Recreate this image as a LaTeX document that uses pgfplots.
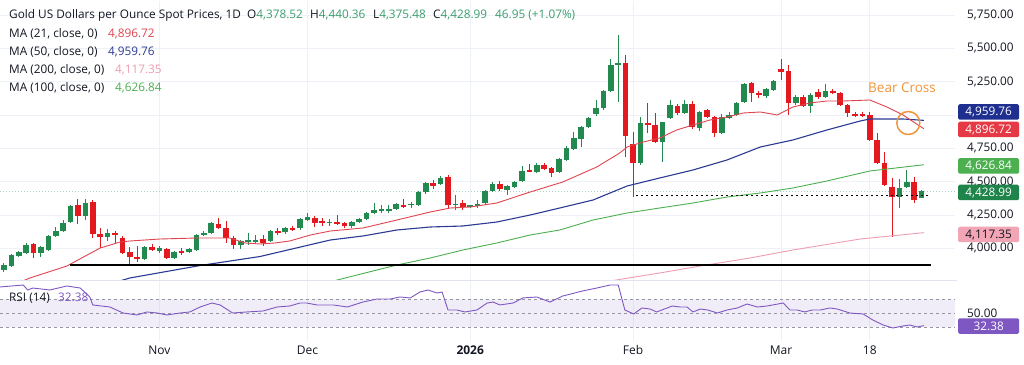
\documentclass[border=0pt]{standalone}
\usepackage{pgfplots}
\pgfplotsset{compat=1.18}
\usepackage{pgfplotstable}
\usepackage{fontspec}
\setmainfont{Open Sans}
\definecolor{cup}{HTML}{22894F}
\definecolor{cdn}{HTML}{E3191F}
\definecolor{ma21}{HTML}{E0454F}
\definecolor{ma50}{HTML}{2B3A93}
\definecolor{ma100}{HTML}{4CAF50}
\definecolor{ma200}{HTML}{EE9DB0}
\definecolor{rsic}{HTML}{7E57C2}
\definecolor{txt}{HTML}{131722}
\definecolor{gridc}{HTML}{EEF1F7}
\definecolor{hgreen}{HTML}{3A9D6E}
\definecolor{bear}{HTML}{F0953A}
\definecolor{box50}{HTML}{1F2F8F}
\definecolor{box21}{HTML}{E53945}
\definecolor{box100}{HTML}{4CAF50}
\definecolor{boxlast}{HTML}{1E8449}
\definecolor{box200}{HTML}{F2A5B5}
\definecolor{lastline}{HTML}{A8CFC2}

\pgfplotstableread{
i o h l c
1 3838 3890 3822 3875
2 3868 3958 3860 3950
3 3942 3980 3935 3972
4 3965 4040 3958 4025
6 3965 4018 3935 4010
7 3988 4100 3980 4092
8 4092 4160 4085 4130
9 4130 4212 4122 4190
10 4198 4325 4190 4318
12 4242 4370 4212 4340
15 4085 4145 4055 4115
20 3920 4018 3912 4010
22 3980 4018 3965 4002
24 3928 3980 3920 3972
26 3972 4002 3965 3995
27 3988 4108 3980 4100
28 4100 4130 4092 4115
29 4115 4200 4108 4190
33 4025 4062 3995 4055
34 4055 4115 4025 4062
35 4055 4100 4040 4060
37 4055 4140 4050 4130
39 4122 4160 4110 4152
41 4150 4225 4140 4220
42 4212 4265 4205 4235
45 4190 4222 4170 4200
48 4168 4205 4155 4198
49 4198 4230 4190 4220
50 4220 4275 4210 4265
51 4265 4340 4258 4288
52 4285 4325 4265 4290
53 4288 4325 4265 4292
54 4295 4342 4285 4332
56 4328 4350 4300 4335
57 4325 4430 4315 4422
58 4422 4497 4410 4490
60 4482 4542 4475 4528
62 4325 4400 4290 4335
64 4315 4325 4305 4320
65 4320 4362 4305 4330
66 4340 4440 4330 4430
67 4430 4500 4420 4482
69 4437 4475 4400 4467
70 4460 4505 4450 4500
71 4505 4620 4500 4580
73 4575 4640 4565 4625
76 4575 4680 4565 4670
77 4662 4770 4655 4752
78 4745 4875 4740 4827
79 4820 4920 4760 4910
80 4910 4985 4900 4977
81 5007 5112 4995 5052
82 5052 5190 5040 5180
83 5180 5420 5170 5375
84 5375 5600 5097 5390
87 4640 4985 4625 4940
90 4797 4950 4647 4947
91 4977 5112 4970 5075
93 5015 5112 5005 5082
95 4902 5030 4880 5022
98 4865 5005 4855 4985
99 4977 5022 4970 5000
100 5000 5095 4990 5090
101 5097 5240 5090 5232
104 5142 5200 5130 5195
105 5187 5262 5180 5255
108 5090 5150 5075 5135
110 5067 5165 5015 5150
112 5135 5232 5125 5180
122 4385 4520 4302 4452
123 4460 4587 4450 4497
125 4378.52 4440.36 4375.48 4428.99
}\up

\pgfplotstableread{
i o h l c
5 4032 4040 3928 3965
11 4325 4370 4182 4242
13 4348 4362 4078 4108
14 4108 4152 4002 4085
16 4115 4130 4040 4100
17 4078 4092 3958 3965
18 3972 4010 3882 3935
19 3935 4018 3898 3920
21 4010 4032 3980 3988
23 3995 4002 3920 3928
25 3980 4002 3950 3972
30 4182 4228 4145 4152
31 4152 4205 4040 4078
32 4078 4090 3995 4025
36 4070 4100 4018 4040
38 4130 4152 4100 4120
40 4152 4165 4130 4138
43 4228 4240 4160 4190
44 4200 4228 4168 4196
46 4198 4250 4175 4182
47 4190 4200 4155 4168
55 4325 4370 4300 4310
59 4490 4512 4445 4470
61 4535 4550 4302 4325
63 4340 4365 4290 4310
68 4482 4505 4430 4445
72 4587 4630 4570 4575
74 4625 4640 4590 4595
75 4602 4610 4535 4565
85 5390 5450 4685 4842
86 4782 4872 4385 4640
88 4940 5090 4865 4925
89 4925 5015 4790 4797
92 5067 5085 5000 5015
94 5082 5105 4895 4910
96 5037 5045 4980 4985
97 4985 4992 4835 4865
102 5240 5250 5097 5165
103 5165 5180 5130 5150
106 5345 5420 5262 5322
107 5330 5375 5000 5090
109 5135 5150 5060 5067
111 5172 5195 5120 5135
113 5180 5195 5160 5165
114 5165 5175 5070 5075
115 5075 5085 4985 5015
116 5005 5020 4985 5000
117 5005 5020 4985 4997
118 5000 5020 4805 4812
119 4812 4865 4630 4640
120 4640 4722 4470 4475
121 4460 4527 4085 4385
124 4497 4535 4340 4362
}\down

\newcommand{\fs}[1]{\fontsize{#1}{#1}\selectfont}

\begin{document}
\begin{tikzpicture}
\useasboundingbox (0,0) rectangle (1024pt,364pt);
\fill[white] (0,0) rectangle (1024pt,364pt);

% ---------------- main price panel ----------------
\begin{axis}[
  at={(0pt,84pt)}, anchor=south west,
  width=955pt, height=279pt, scale only axis,
  xmin=0.46, xmax=129.51, ymin=3762.5, ymax=5855,
  axis line style={draw=none},
  xtick={22,42,64,86,106,118}, xticklabels={},
  ytick={4000,4250,4500,4750,5000,5250,5500,5750},
  yticklabels={{4,000.00},{4,250.00},{4,500.00},{4,750.00},{},{5,250.00},{5,500.00},{5,750.00}},
  ytick pos=right, yticklabel pos=right, major tick length=0pt,
  yticklabel style={font=\fs{11.8}, text=txt, anchor=west, inner sep=0pt, xshift=12pt},
  grid=major, grid style={color=gridc, line width=0.7pt},
  clip=true,
]
% last price line
\addplot[lastline, line width=0.7pt, dash pattern=on 1pt off 2pt] coordinates {(0.46,4428.99) (129.51,4428.99)};

% wicks
\addplot[draw=none, mark=none, error bars/.cd, y dir=both, y explicit, error mark=none,
  error bar style={line width=1pt, draw=cup}]
  table[x=i, y expr={(\thisrow{h}+\thisrow{l})/2}, y error expr={(\thisrow{h}-\thisrow{l})/2}] {\up};
\addplot[draw=none, mark=none, error bars/.cd, y dir=both, y explicit, error mark=none,
  error bar style={line width=1pt, draw=cdn}]
  table[x=i, y expr={(\thisrow{h}+\thisrow{l})/2}, y error expr={(\thisrow{h}-\thisrow{l})/2}] {\down};
% bodies
\addplot[draw=none, mark=none, error bars/.cd, y dir=both, y explicit, error mark=none,
  error bar style={line width=5.6pt, draw=cup}]
  table[x=i, y expr={(\thisrow{o}+\thisrow{c})/2}, y error expr={max(abs(\thisrow{c}-\thisrow{o})/2,4)}] {\up};
\addplot[draw=none, mark=none, error bars/.cd, y dir=both, y explicit, error mark=none,
  error bar style={line width=5.6pt, draw=cdn}]
  table[x=i, y expr={(\thisrow{o}+\thisrow{c})/2}, y error expr={max(abs(\thisrow{c}-\thisrow{o})/2,4)}] {\down};

% MA 200
\addplot[ma200, line width=0.9pt] coordinates {
(82.9,3755) (89.6,3815) (95.1,3867.5) (101.8,3927.5) (107.6,3987.5) (116.7,4070) (125.3,4117.35)};
% MA 100
\addplot[ma100, line width=0.9pt] coordinates {
(44.4,3740) (47.1,3777.5) (54.1,3875) (58.6,3927.5) (63,3987.5) (67.6,4040) (72.1,4100)
(76.1,4137.5) (80.6,4212.5) (85.2,4265) (89.6,4302.5) (94.1,4340) (98.7,4385) (103.2,4415)
(107.6,4452.5) (112.2,4505) (118,4580) (125.3,4626.84)};
% MA 50
\addplot[ma50, line width=1.1pt] coordinates {
(15.3,3732.5) (18,3777.5) (27.5,3871) (35.6,3938.75) (45.1,4062.5) (49.5,4092.5) (54.1,4137.5)
(58.6,4160) (63,4167.5) (67.6,4197.5) (72.1,4250) (76.1,4302.5) (80.6,4362.5) (85.2,4467.5)
(89.6,4527.5) (94.1,4587.5) (98.7,4662.5) (103.2,4760) (107.6,4812.5) (112.2,4887.5)
(116.7,4955) (118,4970) (122.5,4970) (125.3,4959.76)};
% MA 21
\addplot[ma21, line width=0.9pt] coordinates {
(2.5,3732) (4.5,3777.5) (9.5,3867.5) (14,4002.5) (16.7,4047.5) (18,4055) (22.1,4070)
(27.1,4077.5) (31.5,4077.5) (33.6,4040) (35.6,4032.5) (37.6,4040) (39.6,4055) (42.4,4100)
(45.1,4130) (49.5,4152.5) (54.1,4212.5) (58.6,4272.5) (61.3,4302.5) (64,4310) (67.6,4340)
(72.1,4422.5) (76.5,4497.5) (81.1,4610) (84.2,4715) (85.2,4760) (87.4,4797.5) (89.6,4827.5)
(91.9,4887.5) (94.1,4925) (96.4,4962.5) (98.7,4985) (100.9,5015) (103.2,5022.5) (105.5,5000)
(107.6,5060) (109.9,5090) (112.2,5105) (114.4,5105) (118,5112.5) (120.3,5060) (122.5,5000)
(125.3,4896.72)};

% support line and dotted level
\addplot[black, line width=1.9pt] coordinates {(9.9,3875) (126.3,3875)};
\addplot[black, line width=1.6pt, dash pattern=on 1.6pt off 3.4pt] coordinates {(86.4,4395) (126.1,4395)};

% bear cross circle
\addplot[only marks, mark=o, mark size=11.5pt, mark options={line width=1.5pt, draw=bear}] coordinates {(123.2,4940)};
\end{axis}

% ---------------- RSI panel ----------------
\begin{axis}[
  at={(0pt,23pt)}, anchor=south west,
  width=955pt, height=60pt, scale only axis,
  xmin=0.46, xmax=129.51, ymin=10.43, ymax=96.14,
  axis line style={draw=none},
  xtick={22,42,64,86,106,118},
  xticklabels={Nov,Dec,\textbf{2026},Feb,Mar,18},
  xticklabel style={font=\fs{12}, text=txt, anchor=base, inner sep=0pt, yshift=-13pt},
  ytick={50}, yticklabels={50.00},
  ytick pos=right, yticklabel pos=right, major tick length=0pt,
  yticklabel style={font=\fs{11.8}, text=txt, anchor=west, inner sep=0pt, xshift=12pt},
  xmajorgrids, grid style={color=gridc, line width=0.7pt},
  clip=true,
]
\addplot[draw=none, fill=rsic, fill opacity=0.10] coordinates {(0.46,30) (129.51,30) (129.51,70) (0.46,70) (0.46,30)};
\addplot[color={rgb,255:red,150;green,152;blue,161}, line width=0.7pt, dash pattern=on 3pt off 3pt] coordinates {(0.46,70) (129.51,70)};
\addplot[color={rgb,255:red,150;green,152;blue,161}, line width=0.7pt, dash pattern=on 3pt off 3pt] coordinates {(0.46,50) (129.51,50)};
\addplot[color={rgb,255:red,150;green,152;blue,161}, line width=0.7pt, dash pattern=on 3pt off 3pt] coordinates {(0.46,30) (129.51,30)};
\addplot[rsic, line width=0.9pt] coordinates {
(0.46,87.6) (3.6,90.4) (4.2,83.3) (4.9,86.1) (7.2,83.3) (9.5,89) (11.3,86.1) (12.6,73.3) (13,61.9)
(15.3,59) (17.1,50.4) (19,47.6) (20.3,51.9) (21.7,50.4) (23,47.6) (24.8,50.4) (26.1,51.9) (27.5,59)
(29.1,64.7) (30.2,61.9) (31.9,50.4) (33.8,51.9) (36,53.3) (37.9,59) (39.6,60.4) (41,64.7) (41.9,64.7)
(43.3,61.9) (45.5,61.9) (47.4,59) (49.5,66.1) (51.4,70.4) (53.2,70.4) (54.5,73.3) (55.9,71.9)
(57.2,80.4) (58.3,83.3) (59.5,79) (60.2,80.4) (61,54.7) (62.2,54.7) (63.3,51.9) (64.9,54.7)
(66.3,64.7) (67.1,66.1) (68,61.9) (69.8,64.7) (71.1,71.9) (73,73.3) (74.8,66.1) (76.5,74.7)
(79.2,81.9) (81.1,86.1) (82.9,90.4) (84,90.4) (84.9,54.7) (86.1,49) (87.2,57.6) (88.3,56.1)
(89.2,51.9) (91.3,60.4) (92.4,59) (93.3,59) (94.1,51.9) (95.1,56.1) (96.1,54.7) (97.4,50.4)
(98.7,54.7) (100.1,57.6) (101.4,63.3) (102.8,59) (104.1,60.4) (106.3,64.7) (107.2,54.7)
(108.2,54.7) (109.2,51.9) (110.2,54.7) (111.3,54.7) (112.6,57.6) (113.6,56.1) (115.3,50.4)
(117.1,49) (118.4,40.4) (119.8,33.3) (121.1,29) (122.5,31.9) (123.4,33.3) (124.4,30.4) (125.3,32.38)};
\end{axis}

% panel separator
\draw[color={rgb,255:red,224;green,227;blue,235}, line width=0.8pt] (0,84pt) -- (957pt,84pt);

% ---------------- legend texts ----------------
\begin{scope}[every node/.style={anchor=base west, inner sep=0pt, text=txt, font=\fs{11.8}}]
\node at (9pt,345pt) {Gold US Dollars per Ounce Spot Prices, 1D};
\node at (247pt,345pt) {O\textcolor{hgreen}{4,378.52}};
\node at (310pt,345pt) {H\textcolor{hgreen}{4,440.36}};
\node at (373pt,345pt) {L\textcolor{hgreen}{4,375.48}};
\node at (433pt,345pt) {C\textcolor{hgreen}{4,428.99}};
\node at (495pt,345pt) {\textcolor{hgreen}{46.95 (+1.07\%)}};
\node at (9pt,326pt) {MA (21, close, 0)};
\node at (108pt,326pt) {\textcolor{ma21}{4,896.72}};
\node at (9pt,308pt) {MA (50, close, 0)};
\node at (108pt,308pt) {\textcolor{ma50}{4,959.76}};
\node at (9pt,290pt) {MA (200, close, 0)};
\node at (115pt,290pt) {\textcolor{ma200}{4,117.35}};
\node at (9pt,272pt) {MA (100, close, 0)};
\node at (115pt,272pt) {\textcolor{ma100}{4,626.84}};
\node at (9pt,63pt) {RSI (14)};
\node at (58pt,63pt) {\textcolor{rsic}{32.38}};
\node[text=bear, font=\fs{13.5}] at (868pt,271.5pt) {Bear Cross};
\end{scope}

% ---------------- price scale value boxes ----------------
\begin{scope}[every node/.style={anchor=west, inner sep=0pt, minimum width=61pt, minimum height=15.5pt, rounded corners=1.5pt, font=\fs{11.8}, text=white}]
\node[fill=box50] at (958pt,252pt) {4,959.76};
\node[fill=box21] at (958pt,234.5pt) {4,896.72};
\node[fill=box100] at (958pt,198pt) {4,626.84};
\node[fill=boxlast] at (958pt,171.5pt) {4,428.99};
\node[fill=box200, text=txt] at (958pt,129.5pt) {4,117.35};
\node[fill=rsic] at (958pt,38pt) {32.38};
\end{scope}
\end{tikzpicture}
\end{document}
